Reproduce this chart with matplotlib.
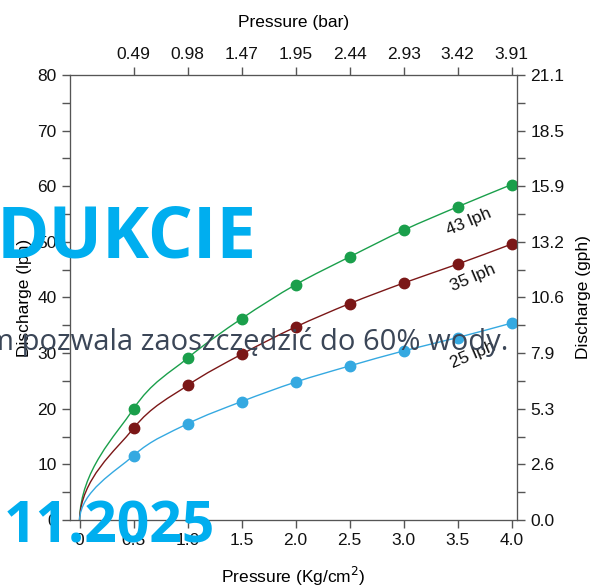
import matplotlib

matplotlib.use("Agg")
import matplotlib.pyplot as plt
from matplotlib.path import Path
from matplotlib.patches import PathPatch

plt.rcParams["font.family"] = ["Liberation Sans Narrow", "Liberation Sans", "DejaVu Sans"]

pressure = [0.5, 1.0, 1.5, 2.0, 2.5, 3.0, 3.5, 4.0]
bar_labels = ["0.49", "0.98", "1.47", "1.95", "2.44", "2.93", "3.42", "3.91"]
q43 = [20.0, 29.1, 36.2, 42.3, 47.3, 52.1, 56.3, 60.3]
q35 = [16.5, 24.2, 29.8, 34.7, 38.9, 42.6, 46.0, 49.6]
q25 = [11.6, 17.3, 21.3, 24.8, 27.7, 30.4, 32.8, 35.4]
left_ticks = [0, 10, 20, 30, 40, 50, 60, 70, 80]
gph_labels = ["0.0", "2.6", "5.3", "7.9", "10.6", "13.2", "15.9", "18.5", "21.1"]
bottom_ticks = [0, 0.5, 1.0, 1.5, 2.0, 2.5, 3.0, 3.5, 4.0]
bottom_labels = ["0", "0.5", "1.0", "1.5", "2.0", "2.5", "3.0", "3.5", "4.0"]

series = [
    (q43, "#1a9f4b", "43 lph"),
    (q35, "#7b1717", "35 lph"),
    (q25, "#35a9e1", "25 lph"),
]
label_pos = {"43 lph": (3.6, 53.6), "35 lph": (3.64, 43.5), "25 lph": (3.64, 29.7)}

AXIS = "#555555"


def smooth_path(xs, ys):
    # curve from the origin through the points (Catmull-Rom as cubic Bezier)
    px = [0.0] + list(xs)
    py = [0.0] + list(ys)
    verts = [(px[0], py[0])]
    codes = [Path.MOVETO]
    n = len(px)
    for i in range(n - 1):
        if i == 0:
            c1 = (px[0] + 0.01, py[1] * 0.45)
        else:
            c1 = (px[i] + (px[i + 1] - px[i - 1]) / 6, py[i] + (py[i + 1] - py[i - 1]) / 6)
        if i + 2 < n:
            c2 = (px[i + 1] - (px[i + 2] - px[i]) / 6, py[i + 1] - (py[i + 2] - py[i]) / 6)
        else:
            c2 = (px[i + 1] - (px[i + 1] - px[i]) / 3, py[i + 1] - (py[i + 1] - py[i]) / 3)
        verts += [c1, c2, (px[i + 1], py[i + 1])]
        codes += [Path.CURVE4] * 3
    return Path(verts, codes)


fig = plt.figure(figsize=(6.02, 5.85), dpi=100)
ax = fig.add_axes([0.116, 0.111, 0.743, 0.761])

for ys, color, name in series:
    ax.add_patch(PathPatch(smooth_path(pressure, ys), facecolor="none", edgecolor=color, lw=1.0))
    ax.plot(pressure, ys, "o", color=color, markersize=7.5, zorder=3)
    lx, ly = label_pos[name]
    ax.text(lx, ly, name, fontsize=12.5, rotation=23, ha="center", va="center", color="#111111")

ax.set_xlim(-0.09, 4.05)
ax.set_ylim(0, 80)
ax.set_xticks(bottom_ticks)
ax.set_xticklabels(bottom_labels)
ax.set_yticks(left_ticks)
ax.set_yticks([5, 15, 25, 35, 45, 55, 65, 75], minor=True)
ax.set_xlabel("Pressure (Kg/cm$^2$)", fontsize=12.5, labelpad=12)
ax.set_ylabel("Discharge (lph)", fontsize=12.5, labelpad=4)

top = ax.twiny()
top.set_xlim(ax.get_xlim())
top.set_xticks(pressure)
top.set_xticklabels(bar_labels)
top.set_xlabel("Pressure (bar)", fontsize=12.5, labelpad=14)

right = ax.twinx()
right.set_ylim(0, 80)
right.set_yticks(left_ticks)
right.set_yticklabels(gph_labels)
right.set_yticks([5, 15, 25, 35, 45, 55, 65, 75], minor=True)
right.set_ylabel("Discharge (gph)", fontsize=12.5, labelpad=8)

for a in (ax, top, right):
    for s in a.spines.values():
        s.set_color(AXIS)
    a.tick_params(which="both", direction="out", length=6, width=1, color=AXIS, labelsize=12.5, labelcolor="#111111")
    a.tick_params(which="minor", labelleft=False, labelright=False)

# overlay text from the page the chart was captured on
fig.text(-0.006, 0.593, "DUKCIE", fontsize=51, fontweight="bold", family="Open Sans", color="#00aeef", va="center")
fig.text(-0.022, 0.416, "m pozwala zaoszczędzić do 60% wody.", fontsize=21, family="Open Sans", color="#3b4657", va="center")
fig.text(0.006, 0.099, "11.2025", fontsize=41, fontweight="bold", family="Open Sans", color="#00aeef", va="center")

fig.savefig("out.png", dpi=100)
